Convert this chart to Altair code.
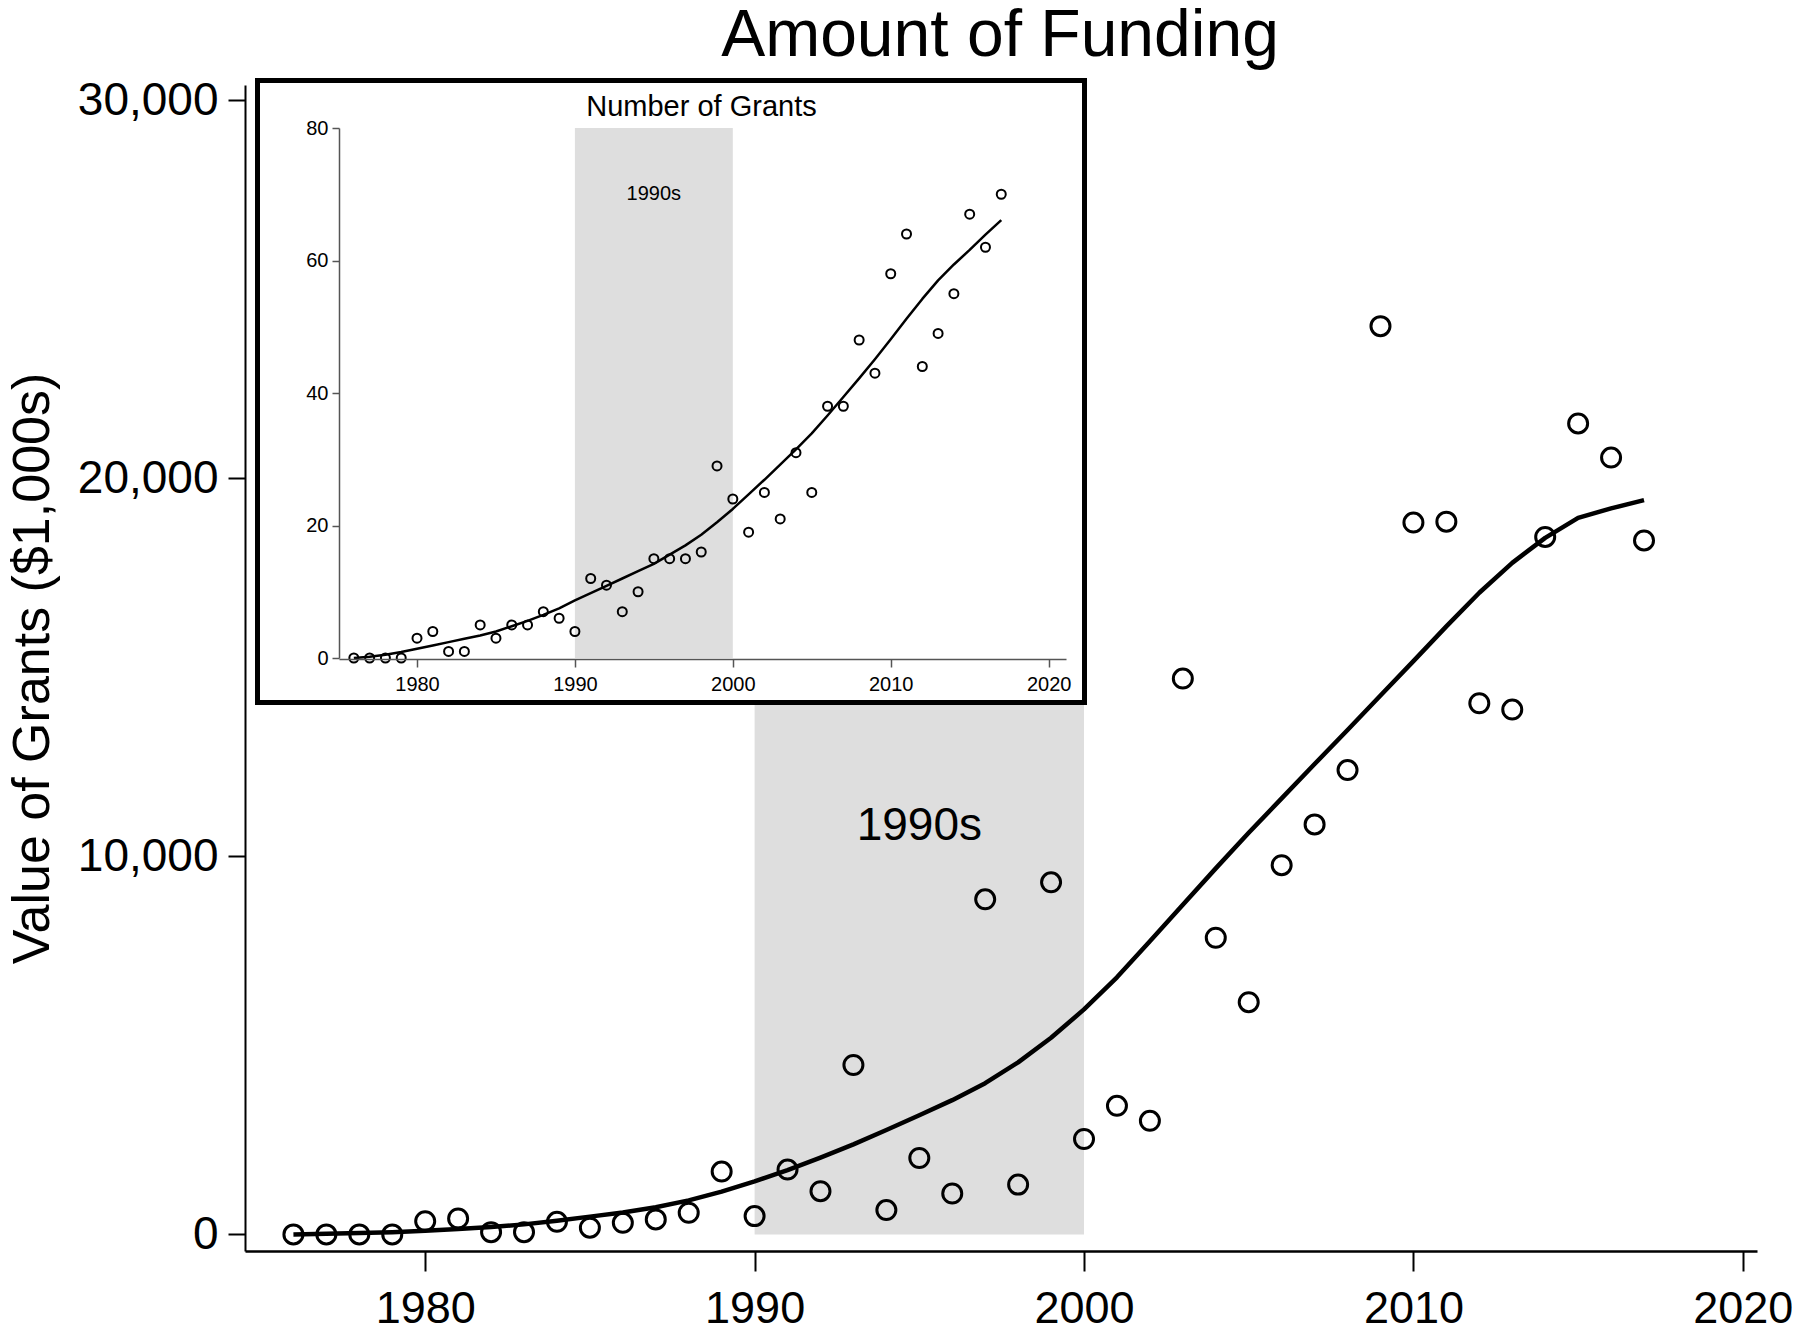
import altair as alt
import pandas as pd

# ---------------- data ----------------
years = list(range(1976, 2018))

# main panel: value of grants ($1,000s)
grant_value = [0, 0, 0, 0, 350, 420, 60, 60, 333, 177, 307, 397, 572, 1661, 484,
               1714, 1143, 4480, 643, 2020, 1081, 8862, 1317, 9312, 2523, 3401,
               3004, 14700, 7845, 6141, 9765, 10843, 12280, 24020, 18826, 18850,
               14047, 13880, 18445, 21447, 20545, 18352]
grant_value_fit = [0, 15, 35, 60, 95, 140, 195, 265, 360, 470, 580, 720, 900, 1130,
                   1400, 1700, 2030, 2380, 2760, 3150, 3550, 4000, 4550, 5200, 5950,
                   6800, 7750, 8720, 9680, 10620, 11530, 12440, 13340, 14250, 15160,
                   16080, 16970, 17760, 18420, 18950, 19200, 19420]

# inset: number of grants
grant_count = [0, 0, 0, 0, 3, 4, 1, 1, 5, 3, 5, 5, 7, 6, 4, 12, 11, 7, 10, 15, 15,
               15, 16, 29, 24, 19, 25, 21, 31, 25, 38, 38, 48, 43, 58, 64, 44, 49,
               55, 67, 62, 70]
grant_count_fit = [0, 0.2, 0.5, 0.9, 1.4, 1.9, 2.4, 2.9, 3.4, 4.0, 4.8, 5.6, 6.5,
                   7.5, 8.7, 9.8, 10.9, 12.0, 13.1, 14.2, 15.6, 17.0, 18.6, 20.5,
                   22.5, 24.7, 26.9, 29.2, 31.5, 33.9, 36.6, 39.4, 42.2, 45.1, 48.1,
                   51.2, 54.2, 57.0, 59.4, 61.6, 63.9, 66.1]

decade_start = [1990]
decade_end = [2000]
decade_mid = [1995]
decade_label = ["1990s"]

x_ticks = [1980, 1990, 2000, 2010, 2020]
main_y_ticks = [0, 10000, 20000, 30000]
inset_y_ticks = [0, 20, 40, 60, 80]

main_df = pd.DataFrame({"year": years, "value": grant_value, "fit": grant_value_fit})
inset_df = pd.DataFrame({"year": years, "count": grant_count, "fit": grant_count_fit})
main_shade = pd.DataFrame({"start": decade_start, "end": decade_end,
                           "low": [0], "high": [30397],
                           "mid": decade_mid, "label": decade_label})
inset_shade = pd.DataFrame({"start": decade_start, "end": decade_end,
                            "low": [0], "high": [80],
                            "mid": decade_mid, "label": decade_label})
one_row = pd.DataFrame({"k": [0]})

FONT = "Liberation Sans"
SHADE = "#dedede"

# ---------------- main panel ----------------
x_main = alt.Scale(domain=[1974.53, 2020.43], nice=False, zero=False)
y_main = alt.Scale(domain=[-439, 30397], nice=False, zero=False)

ax_x_main = alt.Axis(values=x_ticks, format="d", title=None, grid=False,
                     labelFont=FONT, labelFontSize=45, labelColor="black",
                     labelPadding=15, tickSize=20, tickWidth=2, tickColor="black",
                     domainColor="black", domainWidth=2.5, labelOverlap=False)
ax_y_main = alt.Axis(values=main_y_ticks, format=",d", grid=False,
                     title="Value of Grants ($1,000s)", titleFont=FONT,
                     titleFontSize=52, titleFontWeight="normal", titleColor="black",
                     titleAngle=270, titleX=-197, titleY=583,
                     titleBaseline="alphabetic", titleAlign="center",
                     labelFont=FONT, labelFontSize=46, labelColor="black",
                     labelPadding=10, tickSize=17, tickWidth=2, tickColor="black",
                     domainColor="black", domainWidth=2, labelOverlap=False)

m_title = alt.Chart(one_row).mark_text(
    text="Amount of Funding", font=FONT, fontSize=66, color="black",
    align="center", baseline="alphabetic"
).encode(x=alt.value(755), y=alt.value(-29))
m_shade = alt.Chart(main_shade).mark_rect(color=SHADE).encode(
    x=alt.X("start:Q", scale=x_main, axis=ax_x_main),
    x2="end:Q",
    y=alt.Y("low:Q", scale=y_main, axis=ax_y_main),
    y2="high:Q",
)
m_text = alt.Chart(main_shade).mark_text(
    font=FONT, fontSize=46, color="black", align="center", baseline="middle"
).encode(
    x=alt.X("mid:Q", scale=x_main, axis=ax_x_main),
    y=alt.YDatum(10800, scale=y_main, axis=ax_y_main),
    text="label:N",
)
m_points = alt.Chart(main_df).mark_point(
    shape="circle", filled=False, stroke="black", strokeWidth=3, size=361, opacity=1
).encode(
    x=alt.X("year:Q", scale=x_main, axis=ax_x_main),
    y=alt.Y("value:Q", scale=y_main, axis=ax_y_main),
)
m_line = alt.Chart(main_df).mark_line(
    color="black", strokeWidth=4.5, interpolate="linear", strokeJoin="round"
).encode(
    x=alt.X("year:Q", scale=x_main, axis=ax_x_main),
    y=alt.Y("fit:Q", scale=y_main, axis=ax_y_main),
)
main_layer = alt.layer(m_shade, m_text, m_points, m_line, m_title)

# ---------------- inset panel ----------------
x_in = alt.Scale(domain=[1975.06, 2021.1], range=[94, 821], nice=False, zero=False)
y_in = alt.Scale(domain=[0, 80], range=[573, 43], nice=False, zero=False)

ax_x_in = alt.Axis(values=x_ticks, format="d", title=None, grid=False,
                   orient="bottom", offset=-592, zindex=1,
                   labelFont=FONT, labelFontSize=20, labelColor="black",
                   labelPadding=7, tickSize=8, tickWidth=1.5, tickColor="#555555",
                   domainColor="#555555", domainWidth=1.5, labelOverlap=False)
ax_y_in = alt.Axis(values=inset_y_ticks, format="d", title=None, grid=False,
                   orient="left", offset=-94, zindex=1,
                   labelFont=FONT, labelFontSize=20, labelColor="black",
                   labelPadding=4, tickSize=7, tickWidth=1.5, tickColor="#555555",
                   domainColor="#555555", domainWidth=1.5, labelOverlap=False)

i_box = alt.Chart(one_row).mark_rect(
    fill="white", stroke="black", strokeWidth=5
).encode(
    x=alt.value(12.5), x2=alt.value(839.5), y=alt.value(-4.5), y2=alt.value(617.5)
)
i_title = alt.Chart(one_row).mark_text(
    text="Number of Grants", font=FONT, fontSize=29, color="black",
    align="center", baseline="alphabetic"
).encode(x=alt.value(456.5), y=alt.value(31))
i_shade = alt.Chart(inset_shade).mark_rect(color=SHADE).encode(
    x=alt.X("start:Q", scale=x_in, axis=ax_x_in),
    x2="end:Q",
    y=alt.Y("low:Q", scale=y_in, axis=ax_y_in),
    y2="high:Q",
)
i_text = alt.Chart(inset_shade).mark_text(
    font=FONT, fontSize=20, color="black", align="center", baseline="middle"
).encode(
    x=alt.X("mid:Q", scale=x_in, axis=ax_x_in),
    y=alt.YDatum(70, scale=y_in, axis=ax_y_in),
    text="label:N",
)
i_points = alt.Chart(inset_df).mark_point(
    shape="circle", filled=False, stroke="black", strokeWidth=2, size=81, opacity=1
).encode(
    x=alt.X("year:Q", scale=x_in, axis=ax_x_in),
    y=alt.Y("count:Q", scale=y_in, axis=ax_y_in),
)
i_line = alt.Chart(inset_df).mark_line(
    color="black", strokeWidth=2.5, interpolate="linear", strokeJoin="round"
).encode(
    x=alt.X("year:Q", scale=x_in, axis=ax_x_in),
    y=alt.Y("fit:Q", scale=y_in, axis=ax_y_in),
)
inset_layer = alt.layer(i_box, i_title, i_shade, i_text, i_points, i_line)

chart = alt.layer(main_layer, inset_layer).resolve_scale(
    x="independent", y="independent"
).properties(
    width=1512,
    height=1166,
    autosize=alt.AutoSizeParams(type="none"),
    padding={"left": 237, "top": 77, "right": 35, "bottom": 80},
    background="white",
).configure_view(stroke=None)

chart.save("out.html", embed_options={"renderer": "svg", "actions": False})
